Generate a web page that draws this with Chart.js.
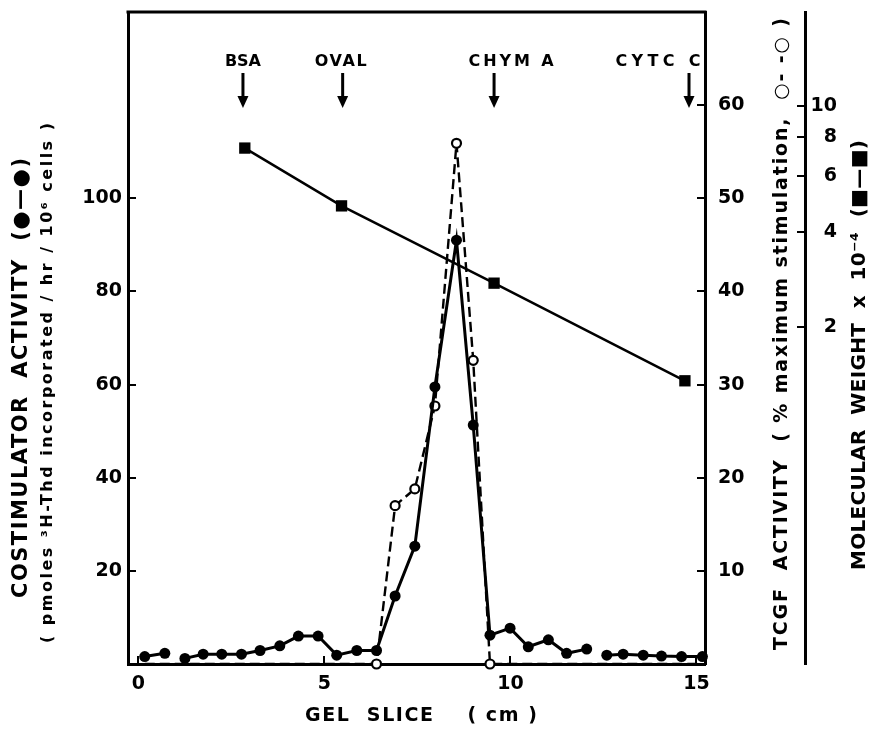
<!DOCTYPE html>
<html>
<head>
<meta charset="utf-8">
<script src="https://cdn.jsdelivr.net/npm/chart.js@4.4.1/dist/chart.umd.min.js"></script>
<style>
  html, body { margin: 0; padding: 0; background: #fff; }
  #wrap { width: 875px; height: 734px; }
</style>
</head>
<body>
<div id="wrap"><canvas id="grafico" width="875" height="734"></canvas></div>
<script>
// posiciones de las rodajas del gel (cm)
const sliceX = [0.17, 0.71, 1.25, 1.74, 2.24, 2.77, 3.27, 3.80, 4.30, 4.83, 5.33, 5.87, 6.40, 6.90, 7.43,
                7.97, 8.55, 9.00, 9.45, 9.99, 10.48, 11.02, 11.51, 12.05, 12.59, 13.03, 13.57, 14.06, 14.60, 15.16];
// actividad coestimuladora (eje izquierdo)
const costim = [1.6, 2.3, 1.2, 2.1, 2.1, 2.1, 2.9, 3.9, 6.0, 6.0, 1.9, 2.9, 2.9, 14.6, 25.3,
                59.5, 91.0, 51.3, 6.2, 7.7, 3.7, 5.2, 2.3, 3.2, 1.9, 2.1, 1.9, 1.7, 1.6, 1.6];
const costimBreaks = [1, 23]; // la linea se corta despues de estos puntos
// actividad TCGF (% estimulacion maxima)
const tcgf = [0, 0, 0, 0, 0, 0, 0, 0, 0, 0, 0, 0, 0, 17.0, 18.8,
              27.7, 55.9, 32.6, 0, 0, 0, 0, 0, 0, 0, 0, 0, 0, 0, 0];
// marcadores de peso molecular
const markerNames = ['BSA', 'OVAL', 'CHYM A', 'CYTC C'];
const markerX = [2.81, 5.49, 9.56, 14.80];
const mwX = [2.86, 5.46, 9.56, 14.69];
const mwValues = [7.36, 4.83, 2.75, 1.35];
// etiquetas de los ejes
const xTicks = [0, 5, 10, 15];
const leftTicks = [20, 40, 60, 80, 100];
const tcgfTicks = [10, 20, 30, 40, 50, 60];
const mwTicks = [2, 4, 6, 8, 10];

const FAM = '"DejaVu Sans"';
Chart.defaults.color = '#000';

// texto estirado a un largo dado (como en la figura original)
function textoAjustado(ctx, txt, cx, cy, size, largo, rot) {
    ctx.save();
    ctx.translate(cx, cy);
    ctx.rotate(rot);
    ctx.font = 'bold ' + size + 'px ' + FAM;
    ctx.letterSpacing = '0px';
    const w = ctx.measureText(txt).width;
    const n = [...txt].length;
    ctx.letterSpacing = ((largo - w) / (n - 1)) + 'px';
    ctx.textAlign = 'left';
    ctx.textBaseline = 'middle';
    ctx.fillStyle = '#000';
    ctx.fillText(txt, -largo / 2, 0);
    ctx.restore();
}

const rotulos = {
    id: 'rotulos',
    afterDraw(chart) {
        const ctx = chart.ctx;
        const area = chart.chartArea;
        const xs = chart.scales.x;
        ctx.save();
        // linea superior del marco
        ctx.strokeStyle = '#000';
        ctx.lineWidth = 3;
        ctx.beginPath();
        ctx.moveTo(area.left - 1.5, area.top);
        ctx.lineTo(area.right + 1.5, area.top);
        ctx.stroke();

        // flechas de los marcadores
        const anchos = [36, 52, 85, 85];
        const despl = [0, -2, 17, -31];
        ctx.fillStyle = '#000';
        markerX.forEach((v, i) => {
            const px = xs.getPixelForValue(v);
            ctx.fillRect(px - 1.5, 73, 3, 26);
            ctx.beginPath();
            ctx.moveTo(px - 5.5, 96);
            ctx.lineTo(px + 5.5, 96);
            ctx.lineTo(px, 108);
            ctx.closePath();
            ctx.fill();
            textoAjustado(ctx, markerNames[i], px + despl[i], 62, 16, anchos[i], 0);
        });

        // titulos de los ejes
        textoAjustado(ctx, 'COSTIMULATOR  ACTIVITY  (●—●)', 22, 378, 21, 440, -Math.PI / 2);
        textoAjustado(ctx, '( pmoles ³H-Thd incorporated / hr / 10⁶ cells )', 48, 383, 16, 520, -Math.PI / 2);
        textoAjustado(ctx, 'TCGF  ACTIVITY  ( % maximum stimulation,  ○- -○ )', 782, 334, 19, 632, -Math.PI / 2);
        textoAjustado(ctx, 'MOLECULAR  WEIGHT  x  10⁻⁴  (■—■)', 860, 355, 20, 430, -Math.PI / 2);
        textoAjustado(ctx, 'GEL  SLICE    ( cm )', 421, 716, 19, 232, 0);
        ctx.restore();
    }
};

// sin relleno extra de Chart.js alrededor de las etiquetas
function sinRelleno(s) {
    s.paddingTop = 0;
    s.paddingBottom = 0;
    s.paddingLeft = 0;
    s.paddingRight = 0;
}

function ejeBase(extra) {
    return Object.assign({
        grid: { drawOnChartArea: false, drawTicks: true, tickLength: -8, color: '#000', lineWidth: 2 },
        border: { display: true, color: '#000', width: 3 }
    }, extra);
}

const tickFont = { family: 'DejaVu Sans', weight: 'bold', size: 19 };

const chart = new Chart(document.getElementById('grafico').getContext('2d'), {
    type: 'line',
    data: {
        datasets: [{
            label: 'Costimulator',
            data: sliceX.map((x, i) => ({ x: x, y: costim[i] })),
            yAxisID: 'y',
            borderColor: '#000',
            borderWidth: 3,
            pointRadius: 5.5,
            pointBackgroundColor: '#000',
            pointBorderWidth: 0,
            tension: 0,
            clip: false,
            segment: {
                borderColor: c => costimBreaks.includes(c.p0DataIndex) ? 'rgba(0,0,0,0)' : undefined
            }
        }, {
            label: 'TCGF',
            data: sliceX.map((x, i) => ({ x: x, y: tcgf[i] })),
            yAxisID: 'y1',
            borderColor: '#000',
            borderWidth: 2.4,
            borderDash: [10, 5],
            pointRadius: c => {
                const i = c.dataIndex;
                return (tcgf[i] > 0 || tcgf[i - 1] > 0 || tcgf[i + 1] > 0) ? 4.5 : 0;
            },
            pointBackgroundColor: '#fff',
            pointBorderColor: '#000',
            pointBorderWidth: 2.2,
            tension: 0,
            clip: false
        }, {
            label: 'MW',
            data: mwX.map((x, i) => ({ x: x, y: mwValues[i] })),
            yAxisID: 'y2',
            borderColor: '#000',
            borderWidth: 2.5,
            pointStyle: 'rect',
            pointRadius: 8,
            pointBackgroundColor: '#000',
            pointBorderWidth: 0,
            tension: 0,
            clip: false
        }]
    },
    options: {
        responsive: false,
        animation: false,
        devicePixelRatio: 1,
        layout: { padding: { left: 0, right: 38, top: 12, bottom: 0 } },
        plugins: { legend: { display: false }, tooltip: { enabled: false } },
        scales: {
            x: ejeBase({
                type: 'linear',
                position: 'bottom',
                min: -0.28,
                max: 15.23,
                afterBuildTicks: s => { s.ticks = xTicks.map(v => ({ value: v })); },
                afterFit: s => { s.height = 70; sinRelleno(s); },
                ticks: { font: tickFont, color: '#000', padding: 17, maxRotation: 0 }
            }),
            y: ejeBase({
                type: 'linear',
                position: 'left',
                min: 0,
                max: 140,
                afterBuildTicks: s => { s.ticks = leftTicks.map(v => ({ value: v })); },
                afterFit: s => { s.width = 128; sinRelleno(s); },
                ticks: { font: tickFont, color: '#000', padding: 14 }
            }),
            y1: ejeBase({
                type: 'linear',
                position: 'right',
                min: 0,
                max: 70,
                afterBuildTicks: s => { s.ticks = tcgfTicks.map(v => ({ value: v })); },
                afterFit: s => { s.width = 100; sinRelleno(s); },
                ticks: { font: tickFont, color: '#000', padding: 21 }
            }),
            y2: ejeBase({
                type: 'logarithmic',
                position: 'right',
                min: 0.1714,
                max: 19.84,
                afterBuildTicks: s => { s.ticks = mwTicks.map(v => ({ value: v })); },
                afterFit: s => { s.width = 32; sinRelleno(s); },
                ticks: {
                    font: tickFont, color: '#000',
                    crossAlign: 'far', padding: 10,
                    callback: v => String(v)
                }
            })
        }
    },
    plugins: [rotulos]
});
</script>
</body>
</html>
